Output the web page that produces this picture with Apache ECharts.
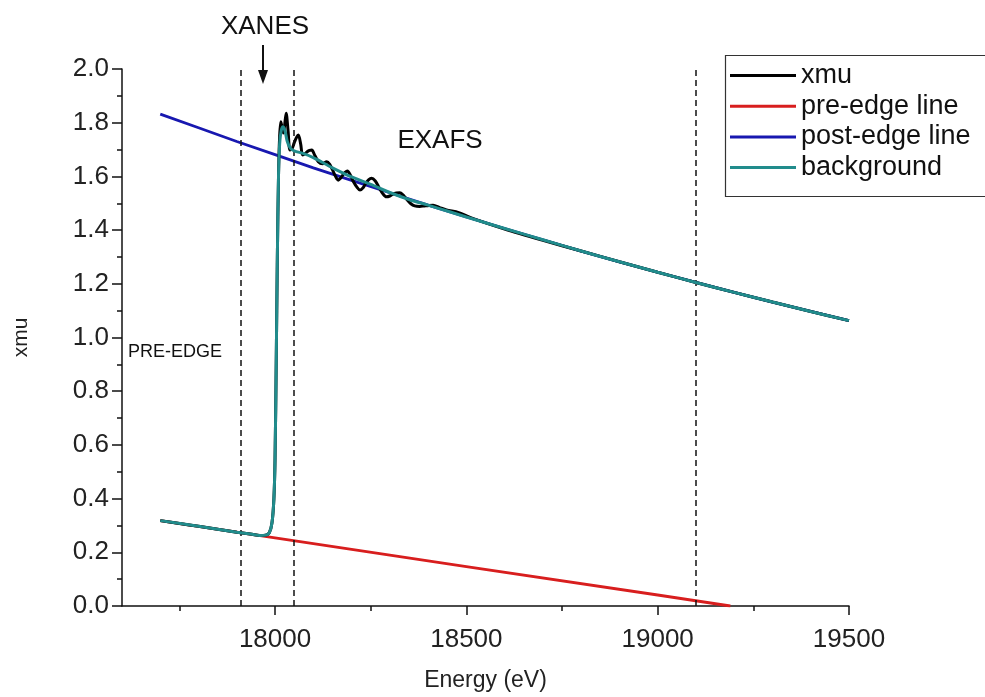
<!DOCTYPE html>
<html><head><meta charset="utf-8">
<script src="https://cdn.jsdelivr.net/npm/echarts@6/dist/echarts.min.js"></script>
<style>html,body{margin:0;padding:0;background:#fff}#c{width:985px;height:697px}</style>
</head><body><div id="c"></div>
<script>
// ---- data ----
const xTickLabels = [18000, 18500, 19000, 19500];
const xMinorTicks = [17750, 18250, 18750, 19250];
const regionBounds = [17910, 18050, 19100];

const xmuE = [17700, 17750, 17800, 17850, 17900, 17940, 17960, 17975, 17985, 17992, 17997, 18000, 18003, 18006, 18009, 18012, 18015, 18018, 18022, 18025, 18029, 18034, 18039, 18045, 18050, 18056, 18061, 18067, 18072, 18078, 18084, 18090, 18096, 18104, 18113, 18124, 18135, 18143, 18150, 18158, 18165, 18172, 18177, 18183, 18189, 18197, 18205, 18214, 18222, 18230, 18237, 18245, 18252, 18262, 18272, 18282, 18291, 18300, 18308, 18317, 18326, 18335, 18345, 18355, 18365, 18378, 18390, 18402, 18413, 18430, 18448, 18480, 18520, 18600, 18700, 18800, 18900, 19000, 19100, 19200, 19300, 19400, 19500];
const xmuV = [0.318, 0.307, 0.297, 0.286, 0.275, 0.267, 0.263, 0.264, 0.273, 0.31, 0.40, 0.55, 0.9, 1.3, 1.6, 1.75, 1.804, 1.785, 1.762, 1.79, 1.835, 1.77, 1.698, 1.705, 1.725, 1.745, 1.754, 1.72, 1.680, 1.684, 1.692, 1.697, 1.698, 1.678, 1.655, 1.647, 1.655, 1.645, 1.625, 1.600, 1.586, 1.595, 1.605, 1.615, 1.620, 1.604, 1.580, 1.560, 1.549, 1.558, 1.574, 1.588, 1.593, 1.583, 1.558, 1.535, 1.524, 1.527, 1.534, 1.538, 1.539, 1.530, 1.513, 1.498, 1.490, 1.488, 1.490, 1.492, 1.493, 1.484, 1.475, 1.465, 1.442, 1.404, 1.362, 1.322, 1.282, 1.243, 1.205, 1.168, 1.132, 1.097, 1.063];

const preE = [17700, 18000, 18500, 19000, 19190];
const preV = [0.318, 0.254, 0.147, 0.041, 0.0];

const postE = [17700, 17800, 17900, 18000, 18100, 18200, 18300, 18400, 18500, 18600, 18700, 18800, 18900, 19000, 19100, 19200, 19300, 19400, 19500];
const postV = [1.832, 1.781, 1.730, 1.681, 1.632, 1.585, 1.539, 1.493, 1.449, 1.406, 1.364, 1.322, 1.282, 1.243, 1.205, 1.168, 1.132, 1.097, 1.063];

const bkgE = [17700, 17800, 17900, 17940, 17960, 17975, 17985, 17992, 17997, 18000, 18003, 18006, 18009, 18012, 18016, 18021, 18026, 18032, 18040, 18050, 18075, 18100, 18150, 18200, 18250, 18300, 18350, 18400, 18450, 18500, 18600, 18700, 18800, 18900, 19000, 19100, 19200, 19300, 19400, 19500];
const bkgV = [0.318, 0.297, 0.275, 0.267, 0.263, 0.264, 0.273, 0.31, 0.40, 0.55, 0.9, 1.3, 1.6, 1.72, 1.77, 1.785, 1.77, 1.73, 1.705, 1.695, 1.685, 1.67, 1.632, 1.598, 1.57, 1.54, 1.514, 1.493, 1.471, 1.449, 1.406, 1.364, 1.322, 1.282, 1.243, 1.205, 1.168, 1.132, 1.097, 1.063];

const seriesNames = ['xmu', 'pre-edge line', 'post-edge line', 'background'];
// ---- end data ----

const FONT = "'Liberation Sans', Arial, sans-serif";
const pairs = (e, v) => e.map((x, i) => [x, v[i]]);
const chart = echarts.init(document.getElementById('c'), null, {renderer: 'canvas'});

const option = {
  animation: false,
  backgroundColor: '#fff',
  grid: {left: 122, right: 136, top: 69, bottom: 91},
  legend: {
    data: seriesNames,
    orient: 'vertical',
    left: 725, top: 57,
    icon: 'rect',
    itemWidth: 66, itemHeight: 3, itemGap: 3.7,
    textStyle: {fontFamily: FONT, fontSize: 27, color: '#111', lineHeight: 26}
  },
  xAxis: [{
    type: 'value', min: 17600, max: 19500,
    name: 'Energy (eV)', nameLocation: 'middle', nameGap: 63,
    nameTextStyle: {fontFamily: FONT, fontSize: 23, color: '#222'},
    axisLine: {show: true, onZero: false, lineStyle: {color: '#111', width: 1.5}},
    axisTick: {show: true, inside: false, length: 9, customValues: xTickLabels, lineStyle: {color: '#111', width: 1.5}},
    axisLabel: {customValues: xTickLabels, fontFamily: FONT, fontSize: 26, color: '#222', margin: 21, formatter: v => String(v)},
    splitLine: {show: false}
  }, {
    type: 'value', min: 17600, max: 19500, position: 'bottom',
    axisLine: {show: false, onZero: false},
    axisTick: {show: true, inside: false, length: 5, customValues: xMinorTicks, lineStyle: {color: '#111', width: 1.5}},
    axisLabel: {show: false, customValues: xMinorTicks},
    splitLine: {show: false}
  }],
  yAxis: {
    type: 'value', min: 0, max: 2, interval: 0.2,
    name: 'xmu', nameLocation: 'middle', nameGap: 90, nameRotate: 90,
    nameTextStyle: {fontFamily: FONT, fontSize: 21, color: '#222'},
    axisLine: {show: true, lineStyle: {color: '#111', width: 1.5}},
    axisTick: {show: true, inside: false, length: 10, lineStyle: {color: '#111', width: 1.5}},
    minorTick: {show: true, splitNumber: 2, length: 5, lineStyle: {color: '#111', width: 1.5}},
    axisLabel: {fontFamily: FONT, fontSize: 26, color: '#222', margin: 13, formatter: v => v.toFixed(1)},
    splitLine: {show: false}
  },
  series: [
    {
      name: 'pre-edge line', type: 'line', symbol: 'none', data: pairs(preE, preV),
      lineStyle: {color: '#d81e1e', width: 2.8}, itemStyle: {color: '#d81e1e'}, z: 2,
      markLine: {
        silent: true, symbol: 'none', label: {show: false},
        lineStyle: {color: '#111', type: [6, 4], width: 1.5},
        data: regionBounds.map(v => ({xAxis: v}))
      }
    },
    {
      name: 'post-edge line', type: 'line', symbol: 'none', data: pairs(postE, postV),
      lineStyle: {color: '#1818b0', width: 2.8}, itemStyle: {color: '#1818b0'}, z: 3
    },
    {
      name: 'xmu', type: 'line', symbol: 'none', smooth: 0.3, data: pairs(xmuE, xmuV),
      lineStyle: {color: '#000', width: 3}, itemStyle: {color: '#000'}, z: 4
    },
    {
      name: 'background', type: 'line', symbol: 'none', smooth: 0.3, data: pairs(bkgE, bkgV),
      lineStyle: {color: '#218c8c', width: 3}, itemStyle: {color: '#218c8c'}, z: 5
    }
  ],
  graphic: [
    {type: 'rect', left: 723, top: 53, z: 100, silent: true,
     shape: {width: 300, height: 141}, style: {fill: 'none', stroke: '#333', lineWidth: 1.2}},
    {type: 'text', x: 265, y: 27, silent: true,
     style: {text: 'XANES', fontFamily: FONT, fontSize: 26, fill: '#111', align: 'center', verticalAlign: 'middle'}},
    {type: 'text', x: 440, y: 141, silent: true,
     style: {text: 'EXAFS', fontFamily: FONT, fontSize: 26, fill: '#111', align: 'center', verticalAlign: 'middle'}},
    {type: 'text', x: 128, y: 352, silent: true,
     style: {text: 'PRE-EDGE', fontFamily: FONT, fontSize: 18, fill: '#111', align: 'left', verticalAlign: 'middle'}},
    {type: 'line', silent: true, shape: {x1: 263, y1: 45, x2: 263, y2: 72}, style: {stroke: '#111', lineWidth: 2}},
    {type: 'polygon', silent: true, shape: {points: [[258, 70], [268, 70], [263, 84]]}, style: {fill: '#111'}}
  ]
};
chart.setOption(option);
</script></body></html>
